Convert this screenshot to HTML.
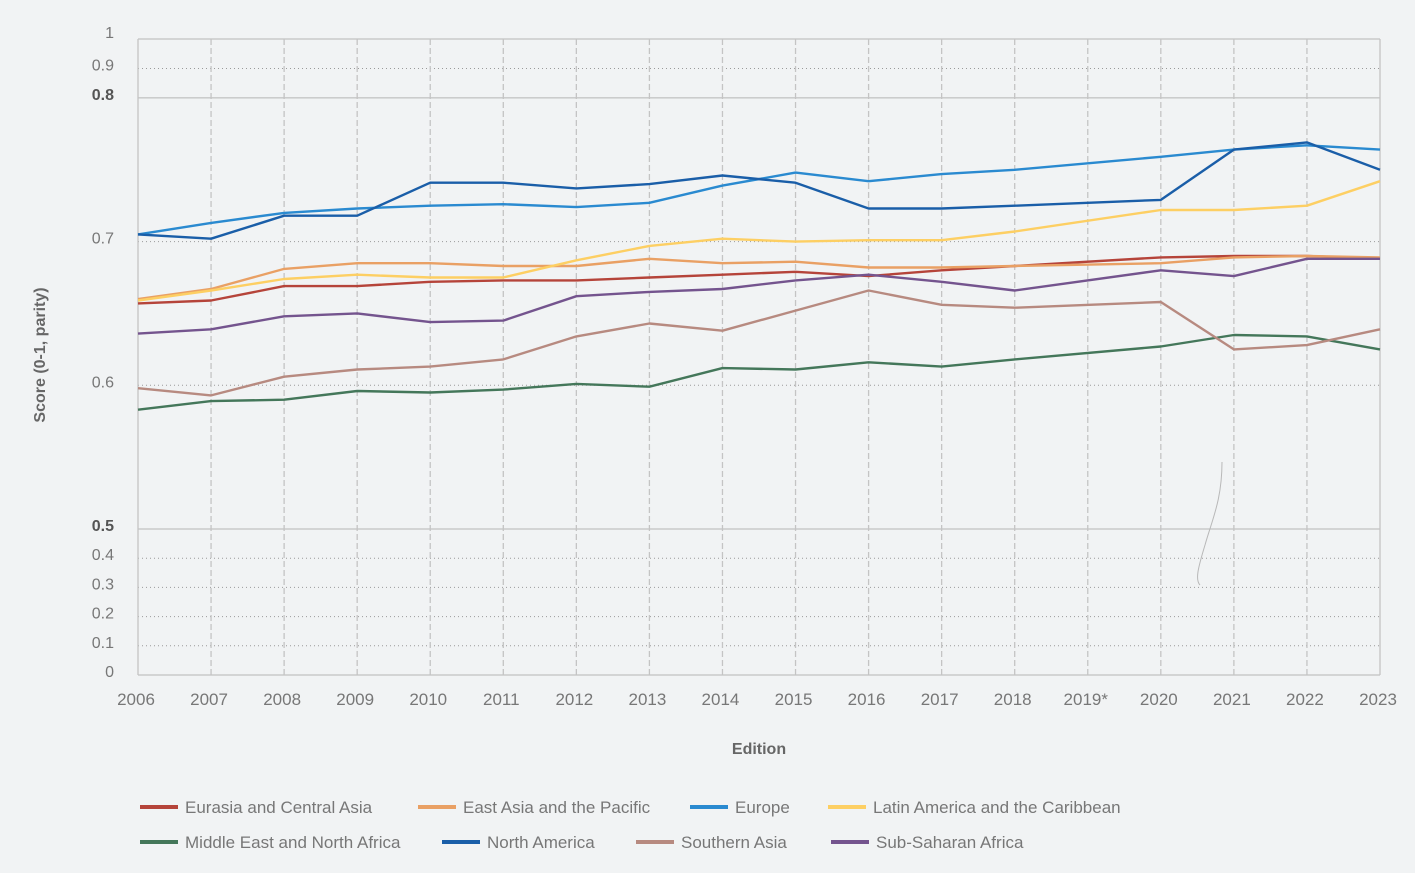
<!DOCTYPE html>
<html><head><meta charset="utf-8">
<style>
body{margin:0;background:#f1f3f4;font-family:"Liberation Sans",sans-serif;}
svg{display:block}
</style></head>
<body>
<svg id="chart" width="1415" height="873" viewBox="0 0 1415 873">
<rect width="1415" height="873" fill="#f1f3f4"/>
<g id="grid"></g><g id="series"></g><g id="axes"></g><g id="legend"></g>
<path d="M1222,462 C1222,500 1212,520 1205,545 C1198,568 1195,580 1200,585" fill="none" stroke="#b8b8b8" stroke-width="1"/>
<text x="759" y="754" text-anchor="middle" font-size="16" font-weight="bold" fill="#666">Edition</text>
<text transform="translate(45,355) rotate(-90)" text-anchor="middle" font-size="16" font-weight="bold" fill="#666">Score (0-1, parity)</text>
</svg>
<script>
const categories=["2006","2007","2008","2009","2010","2011","2012","2013","2014","2015","2016","2017","2018","2019*","2020","2021","2022","2023"];
const seriesNames=["Eurasia and Central Asia","East Asia and the Pacific","Europe","Latin America and the Caribbean","Middle East and North Africa","North America","Southern Asia","Sub-Saharan Africa"];
const seriesColors=["#b5443a","#e9a064","#2a8ad0","#fdcf63","#44775a","#1a5ea8","#b78a80","#74548e"];
const eurasia=[0.657,0.659,0.669,0.669,0.672,0.673,0.673,0.675,0.677,0.679,0.676,0.680,0.683,null,0.689,0.690,0.690,0.688];
const eastAsia=[0.660,0.667,0.681,0.685,0.685,0.683,0.683,0.688,0.685,0.686,0.682,0.682,0.683,null,0.685,0.689,0.690,0.689];
const europe=[0.705,0.713,0.720,0.723,0.725,0.726,0.724,0.727,0.739,0.748,0.742,0.747,0.750,null,0.759,0.764,0.767,0.764];
const latinAmerica=[0.659,0.666,0.674,0.677,0.675,0.675,0.687,0.697,0.702,0.700,0.701,0.701,0.707,null,0.722,0.722,0.725,0.742];
const mena=[0.583,0.589,0.590,0.596,0.595,0.597,0.601,0.599,0.612,0.611,0.616,0.613,0.618,null,0.627,0.635,0.634,0.625];
const northAmerica=[0.705,0.702,0.718,0.718,0.741,0.741,0.737,0.740,0.746,0.741,0.723,0.723,0.725,null,0.729,0.764,0.769,0.750];
const southernAsia=[0.598,0.593,0.606,0.611,0.613,0.618,0.634,0.643,0.638,0.652,0.666,0.656,0.654,null,0.658,0.625,0.628,0.639];
const subSaharan=[0.636,0.639,0.648,0.650,0.644,0.645,0.662,0.665,0.667,0.673,0.677,0.672,0.666,null,0.680,0.676,0.688,0.688];
const yTicks=[0,0.1,0.2,0.3,0.4,0.5,0.6,0.7,0.8,0.9,1];
const yTickLabels=["0","0.1","0.2","0.3","0.4","0.5","0.6","0.7","0.8","0.9","1"];
const allSeries=[eurasia,eastAsia,europe,latinAmerica,mena,northAmerica,southernAsia,subSaharan];

const NS="http://www.w3.org/2000/svg";
const X0=138,X1=1380;
function xs(i){return X0+(X1-X0)*i/(categories.length-1);}
function ys(v){
  if(v<=0.5) return 675-v/0.5*146;
  if(v<=0.8) return 529-(v-0.5)*1437;
  return 98-(v-0.8)/0.2*59;
}
function mk(tag,attrs,parent){const e=document.createElementNS(NS,tag);for(const k in attrs)e.setAttribute(k,attrs[k]);parent.appendChild(e);return e;}
const grid=document.getElementById('grid'),axes=document.getElementById('axes'),ser=document.getElementById('series'),leg=document.getElementById('legend');

yTicks.forEach((t,i)=>{
  const y=ys(t);
  const solid=(t===0||t===0.5||t===0.8||t===1);
  const l=mk('line',{x1:X0,x2:X1,y1:y,y2:y,stroke:solid?'#b5b5b5':'#9a9a9a','stroke-width':1,'stroke-dasharray':solid?'none':'1,3'},grid);
  
  
  const bold=(t===0.5||t===0.8);
  const tx=mk('text',{x:114,y:y+(t===1?-1:2),'text-anchor':'end','font-size':16,fill:bold?'#555':'#777','font-weight':bold?'bold':'normal'},axes);
  tx.textContent=yTickLabels[i];
  
  
});
categories.forEach((c,i)=>{
  const x=xs(i);
  const l=mk('line',{x1:x,x2:x,y1:39,y2:675,stroke:'#c4c4c4','stroke-width':1.3,'stroke-dasharray':(i===0||i===categories.length-1)?'none':'6,3'},grid);
  
  
  const tx=mk('text',{x:x-2,y:705,'text-anchor':'middle','font-size':17,fill:'#777'},axes);
  tx.textContent=c;
  
  
});
allSeries.forEach((s,si)=>{
  let d='';
  s.forEach((v,i)=>{if(v==null)return;d+=(d?'L':'M')+xs(i).toFixed(1)+','+ys(v).toFixed(1);});
  const p=mk('path',{d:d,fill:'none',stroke:seriesColors[si],'stroke-width':2.4,'stroke-linejoin':'round'},ser);
  
  
});
const legPos=[[140,807],[418,807],[690,807],[828,807],[140,842],[442,842],[636,842],[831,842]];
seriesNames.forEach((n,i)=>{
  const g=mk('g',{},leg);
  
  
  const [x,y]=legPos[i];
  mk('rect',{x:x,y:y-2,width:38,height:4,fill:seriesColors[i]},g);
  const t=mk('text',{x:x+45,y:y+6,'font-size':17,fill:'#777'},g);
  t.textContent=n;
});
</script>
</body></html>
